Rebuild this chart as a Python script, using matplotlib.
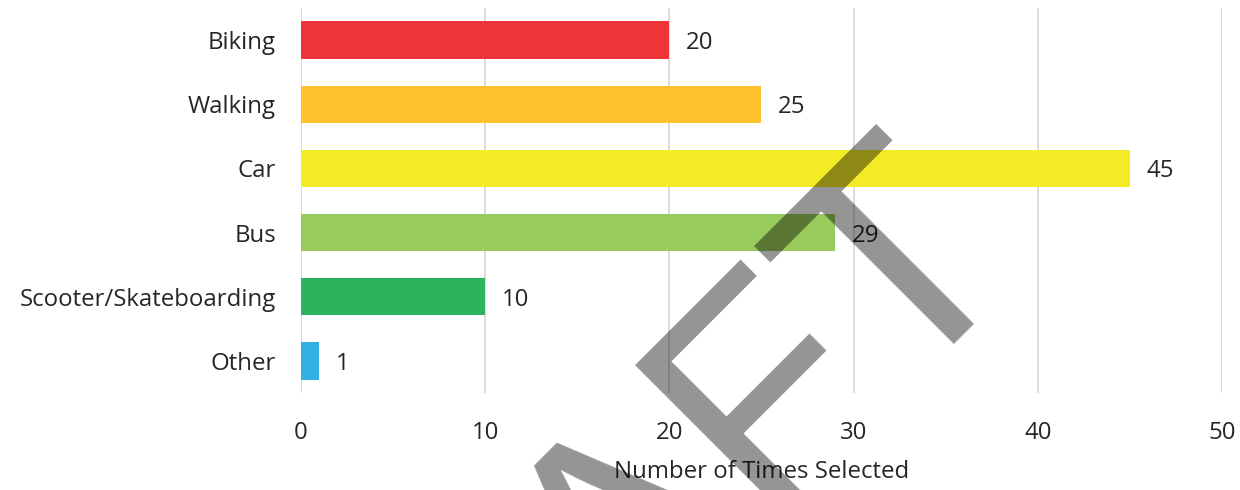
import matplotlib.pyplot as plt
from matplotlib import font_manager

# dados
modos = ['Biking', 'Walking', 'Car', 'Bus', 'Scooter/Skateboarding', 'Other']
vezes = [20, 25, 45, 29, 10, 1]
cores = ['#EE3539', '#FFC12E', '#F3EB25', '#99CB5C', '#2DB35D', '#33B0E3']
ticks_x = [0, 10, 20, 30, 40, 50]

plt.rcParams['font.family'] = ['Open Sans', 'DejaVu Sans']
cor_texto = '#262626'
tam = 17.3

fig = plt.figure(figsize=(12.4, 4.9), dpi=100)
ax = fig.add_axes([0.2427, 0.198, 0.9855 - 0.2427, 0.9837 - 0.198])

posicoes = list(range(len(modos)))
ax.barh(posicoes, vezes, height=0.58, color=cores, zorder=3)

# rotulos de valor
for p, v in zip(posicoes, vezes):
    ax.annotate(str(v), (v, p), xytext=(12, 0), textcoords='offset points',
                va='center_baseline', ha='left', fontsize=tam, color=cor_texto)

ax.set_xlim(0, 50)
ax.set_ylim(len(modos) - 0.5, -0.5)
ax.set_xticks(ticks_x)
ax.set_yticks(posicoes)
ax.set_yticklabels(modos)
ax.tick_params(axis='both', length=0, labelsize=tam, colors=cor_texto)
ax.tick_params(axis='x', pad=20)
ax.tick_params(axis='y', pad=18)
ax.xaxis.grid(True, color='#D9D9D9', lw=1.3, zorder=0)
ax.set_axisbelow(True)
for s in ax.spines.values():
    s.set_visible(False)
ax.set_xlabel('Number of Times Selected', fontsize=tam, color=cor_texto, labelpad=11)

# marca d'agua
nomes = {f.name for f in font_manager.fontManager.ttflist}
fonte_wm = 'Liberation Sans Narrow' if 'Liberation Sans Narrow' in nomes else 'Liberation Sans'
fig.text(0.826, 0.49, 'DRAFT', fontsize=220, family=fonte_wm, color='black', alpha=0.42,
         rotation=45, rotation_mode='anchor', ha='right', va='baseline', zorder=10)

fig.savefig('out.png', dpi=100)
